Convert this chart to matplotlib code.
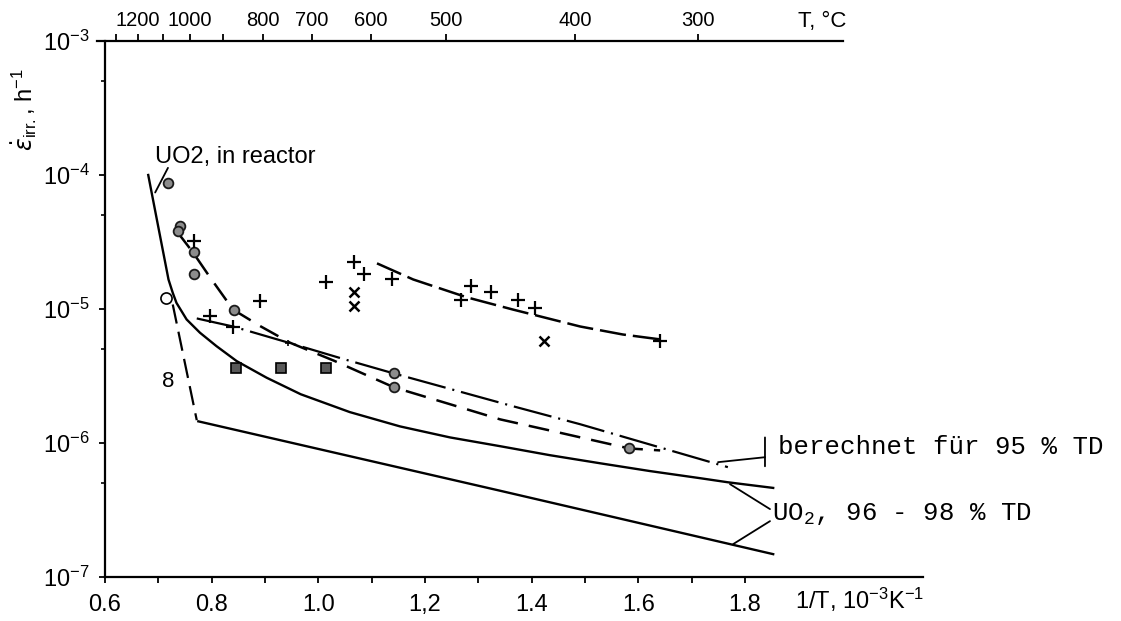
import matplotlib.pyplot as plt
from matplotlib.ticker import FixedLocator, LogLocator, NullFormatter

plt.rcParams['font.family'] = ['Liberation Sans', 'DejaVu Sans']
plt.rcParams['lines.scale_dashes'] = False

# x = 1/T in 10^-3 K^-1, y = irradiation creep rate in 1/h

# UO2 in reactor (solid curve)
reactor_x = [0.681, 0.700, 0.710, 0.719, 0.727, 0.734, 0.753, 0.778, 0.809, 0.847, 0.903,
             0.967, 1.059, 1.153, 1.247, 1.341, 1.434, 1.528, 1.622, 1.716, 1.768, 1.853]
reactor_y = [1.0e-4, 4.07e-5, 2.54e-5, 1.66e-5, 1.32e-5, 1.11e-5, 8.35e-6, 6.65e-6, 5.28e-6,
             4.08e-6, 3.07e-6, 2.31e-6, 1.70e-6, 1.33e-6, 1.10e-6, 9.46e-7, 8.11e-7, 7.06e-7,
             6.17e-7, 5.46e-7, 5.09e-7, 4.62e-7]

# UO2 96 - 98 % TD, lower line with steep dashed part
lower_x = [0.775, 1.341, 1.853]
lower_y = [1.45e-6, 4.4e-7, 1.48e-7]
steep_x = [0.727, 0.772]
steep_y = [1.08e-5, 1.48e-6]

# dashed curve through the dotted circles
dash_x = [0.735, 0.765, 0.797, 0.840, 0.891, 0.947, 1.030, 1.142, 1.250, 1.341, 1.450, 1.583, 1.641]
dash_y = [3.78e-5, 2.64e-5, 1.72e-5, 9.9e-6, 7.45e-6, 5.6e-6, 4.1e-6, 2.6e-6, 1.93e-6, 1.5e-6,
          1.2e-6, 9.1e-7, 8.8e-7]

# dash-dot curve (berechnet fuer 95 % TD)
dd_x = [0.772, 0.840, 0.943, 1.050, 1.142, 1.365, 1.491, 1.768]
dd_y = [8.5e-6, 7.4e-6, 5.62e-6, 4.2e-6, 3.3e-6, 1.88e-6, 1.38e-6, 6.6e-7]

# dashed curve through the right hand plus points
upper_x = [1.110, 1.178, 1.279, 1.365, 1.491, 1.571, 1.641]
upper_y = [2.19e-5, 1.66e-5, 1.22e-5, 9.9e-6, 7.4e-6, 6.45e-6, 5.93e-6]

# measured points
circ_x = [0.719, 0.741, 0.736, 0.766, 0.767, 0.841, 1.142, 1.142, 1.583]
circ_y = [8.7e-5, 4.19e-5, 3.8e-5, 2.65e-5, 1.83e-5, 9.9e-6, 3.3e-6, 2.6e-6, 9.1e-7]

plus_x = [0.766, 0.796, 0.840, 0.891, 1.014, 1.066, 1.085, 1.139, 1.267, 1.286, 1.323,
          1.374, 1.406, 1.641]
plus_y = [3.24e-5, 8.8e-6, 7.4e-6, 1.14e-5, 1.6e-5, 2.26e-5, 1.81e-5, 1.66e-5, 1.16e-5,
          1.48e-5, 1.35e-5, 1.17e-5, 1.02e-5, 5.8e-6]
plus_small_x = [0.943]
plus_small_y = [5.62e-6]

cross_x = [1.066, 1.066, 1.424]
cross_y = [1.33e-5, 1.05e-5, 5.75e-6]

square_x = [0.846, 0.930, 1.014]
square_y = [3.6e-6, 3.6e-6, 3.6e-6]

open_x = [0.714]
open_y = [1.2e-5]

eight_x, eight_y = 0.718, 2.88e-6

# axis ticks
bottom_ticks = [0.6, 0.8, 1.0, 1.2, 1.4, 1.6, 1.8]
bottom_labels = ['0.6', '0.8', '1.0', '1,2', '1.4', '1.6', '1.8']
bottom_minor = [0.7, 0.9, 1.1, 1.3, 1.5, 1.7]
top_pos = [0.621, 0.662, 0.709, 0.759, 0.821, 0.896, 0.988, 1.099, 1.239, 1.481, 1.712]
top_labels = ['', '1200', '', '1000', '', '800', '700', '600', '500', '400', '300']

fig = plt.figure(figsize=(11.21, 6.21), dpi=100)
ax = fig.add_axes([0.0937, 0.0709, 0.7297, 0.8631])

ax.plot(reactor_x, reactor_y, color='k', lw=1.7)
ax.plot(lower_x, lower_y, color='k', lw=1.7)
ax.plot(steep_x, steep_y, color='k', lw=1.6, dashes=(14, 6))
ax.plot(dash_x, dash_y, color='k', lw=1.8, dashes=(15, 8))
ax.plot(dd_x, dd_y, color='k', lw=1.6, dashes=(28, 5, 1.5, 5))
ax.plot(upper_x, upper_y, color='k', lw=1.8, dashes=(19, 5))

ax.plot(circ_x, circ_y, ls='none', marker='o', ms=7, mfc='0.55', mec='0.1', mew=1.3)
ax.plot(plus_x, plus_y, ls='none', marker='+', ms=10, mec='k', mew=1.6)
ax.plot(plus_small_x, plus_small_y, ls='none', marker='+', ms=5, mec='k', mew=1.2)
ax.plot(cross_x, cross_y, ls='none', marker='x', ms=7, mec='k', mew=1.8)
ax.plot(square_x, square_y, ls='none', marker='s', ms=7, mfc='0.35', mec='k', mew=1.2)
ax.plot(open_x, open_y, ls='none', marker='o', ms=8, mfc='white', mec='k', mew=1.2)
ax.text(eight_x, eight_y, '8', fontsize=16, ha='center', va='center')

ax.set_yscale('log')
ax.set_ylim(1e-7, 1e-3)
ax.set_xlim(0.6, 2.134)
ax.yaxis.set_minor_locator(LogLocator(base=10, subs=[5]))
ax.yaxis.set_minor_formatter(NullFormatter())
ax.xaxis.set_major_locator(FixedLocator(bottom_ticks))
ax.set_xticklabels(bottom_labels)
ax.xaxis.set_minor_locator(FixedLocator(bottom_minor))

for s in ['top', 'right']:
    ax.spines[s].set_visible(False)
for s in ['left', 'bottom']:
    ax.spines[s].set_linewidth(1.6)

ax.tick_params(axis='x', which='both', direction='out', length=4, width=1.3, labelsize=17, pad=8)
ax.tick_params(axis='y', which='major', direction='out', length=4, width=1.3, labelsize=17, pad=7)
ax.tick_params(axis='y', which='minor', direction='out', length=3, width=1.2)

# temperature scale on top
ax2 = ax.twiny()
ax2.set_xlim(ax.get_xlim())
ax2.set_xticks(top_pos)
ax2.set_xticklabels(top_labels)
for s in ['left', 'right', 'bottom']:
    ax2.spines[s].set_visible(False)
ax2.spines['top'].set_linewidth(1.6)
ax2.spines['top'].set_bounds(0.585, 1.984)
ax2.tick_params(axis='x', direction='out', length=5, width=1.3, labelsize=14.5, pad=3)

# annotations
ax.text(0.694, 1.37e-4, 'UO2, in reactor', fontsize=17, ha='left', va='center')
lead = dict(arrowstyle='-', lw=1.3, color='k', shrinkA=0, shrinkB=0)
ax.annotate('', xy=(0.694, 7.4e-5), xytext=(0.718, 1.13e-4), arrowprops=lead)

mono = ['Liberation Mono', 'DejaVu Sans Mono']
ax.annotate('', xy=(1.8376, 1.10e-6), xytext=(1.8376, 6.7e-7), arrowprops=lead, annotation_clip=False)
ax.annotate('', xy=(1.7495, 7.19e-7), xytext=(1.8376, 7.83e-7), arrowprops=lead, annotation_clip=False)
ax.text(1.862, 9.3e-7, 'berechnet für 95 % TD', family=mono, fontsize=18.5, ha='left', va='center',
        clip_on=False)

ax.annotate('', xy=(1.772, 4.93e-7), xytext=(1.847, 3.21e-7), arrowprops=lead, annotation_clip=False)
ax.annotate('', xy=(1.778, 1.76e-7), xytext=(1.847, 2.61e-7), arrowprops=lead, annotation_clip=False)
ax.text(1.851, 2.94e-7, r'UO$\mathregular{_2}$, 96 - 98 % TD', family=mono, fontsize=18.5,
        ha='left', va='center', clip_on=False)

fig.text(0.0214, 0.823, r'$\dot{\varepsilon}_{\mathregular{irr.}}$, h$\mathregular{^{-1}}$',
         rotation=90, ha='center', va='center', fontsize=17)
fig.text(0.709, 0.034, r'1/T, 10$\mathregular{^{-3}}$K$\mathregular{^{-1}}$', fontsize=17,
         ha='left', va='center')
fig.text(0.712, 0.965, 'T, °C', fontsize=16, ha='left', va='center')

fig.savefig('out.png', dpi=100)
